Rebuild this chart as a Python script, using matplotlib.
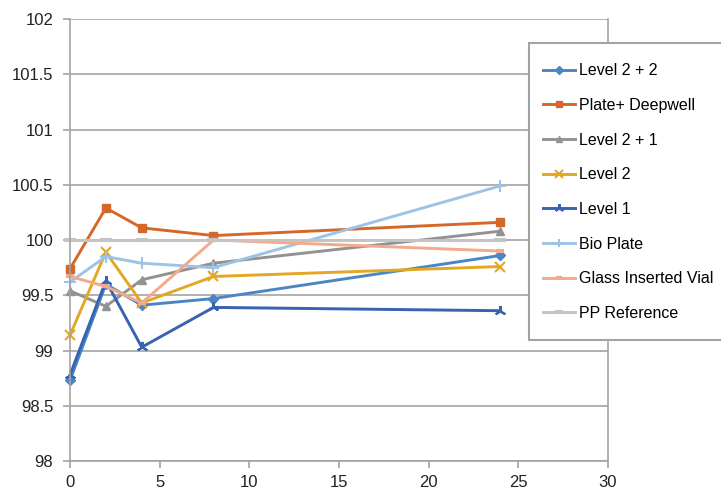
import matplotlib
matplotlib.use("Agg")
import matplotlib.pyplot as plt
from matplotlib.patches import Rectangle

plt.rcParams['font.family'] = ['Liberation Sans', 'DejaVu Sans']

# sampling times
hours = [0, 2, 4, 8, 24]

level_2_2 = [98.73, 99.60, 99.41, 99.47, 99.86]
plate_deepwell = [99.74, 100.29, 100.11, 100.04, 100.16]
level_2_1 = [99.54, 99.40, 99.64, 99.79, 100.08]
level_2 = [99.14, 99.89, 99.43, 99.67, 99.76]
level_1 = [98.78, 99.63, 99.03, 99.39, 99.36]
bio_plate = [99.62, 99.85, 99.79, 99.75, 100.49]
glass_vial = [99.67, 99.58, 99.43, 100.00, 99.90]
pp_reference = [100.00, 100.00, 100.00, 100.00, 100.00]

labels = ["Level 2 + 2", "Plate+ Deepwell", "Level 2 + 1", "Level 2",
          "Level 1", "Bio Plate", "Glass Inserted Vial", "PP Reference"]
series = [level_2_2, plate_deepwell, level_2_1, level_2,
          level_1, bio_plate, glass_vial, pp_reference]

styles = [
    dict(color='#4a86c5', marker='D', markersize=5),
    dict(color='#d4682a', marker='s', markersize=6),
    dict(color='#929292', marker='^', markersize=6),
    dict(color='#e2a825', marker='x', markersize=7, markeredgewidth=1.5),
    dict(color='#3763b0', marker=(3, 2, 0), markersize=8, markeredgewidth=1.5),
    dict(color='#9dc3e6', marker='+', markersize=8, markeredgewidth=1.5),
    dict(color='#f2aa8a', marker='_', markersize=6, markeredgewidth=3),
    dict(color='#c4c4c4', marker='_', markersize=8, markeredgewidth=3),
]

W, H = 721, 494
fig = plt.figure(figsize=(W / 100, H / 100), dpi=100)
ax = fig.add_axes([0.0971, 0.0668, 0.7462, 0.8947])

for label, vals, st in zip(labels, series, styles):
    ax.plot(hours, vals, linewidth=2.1, label=label, clip_on=False, **st)

grid_col = '#a3a3a3'
ax.set_xlim(0, 30)
ax.set_ylim(98, 102)
ax.set_xticks(range(0, 31, 5))
ax.set_yticks([98, 98.5, 99, 99.5, 100, 100.5, 101, 101.5, 102])
ax.set_yticklabels(['98', '98.5', '99', '99.5', '100', '100.5', '101', '101.5', '102'])
ax.yaxis.grid(True, color=grid_col, linewidth=1.2)
ax.set_axisbelow(True)
for side in ['left', 'right', 'bottom']:
    ax.spines[side].set_color(grid_col)
    ax.spines[side].set_linewidth(1.2)
ax.spines['top'].set_visible(False)
ax.tick_params(axis='both', colors=grid_col, labelcolor='#222222',
               labelsize=12, length=5, width=1.2, direction='out')
ax.tick_params(axis='x', pad=5)
ax.tick_params(axis='y', pad=7)

# legend box runs off the right edge of the figure
box = Rectangle((529 / W, 1 - 340 / H), 200 / W, 297 / H,
                transform=fig.transFigure, facecolor='white',
                edgecolor=grid_col, linewidth=1.5, zorder=3)
fig.patches.append(box)

leg = fig.legend(loc='upper left', bbox_to_anchor=(529 / W, 1 - 49 / H),
                 fontsize=11.5, frameon=False, borderpad=0.9,
                 labelspacing=1.23, handlelength=2.0, handletextpad=0.2,
                 borderaxespad=0, markerscale=0.8)
leg.set_zorder(4)

fig.savefig("out.png", dpi=100)
plt.close(fig)
